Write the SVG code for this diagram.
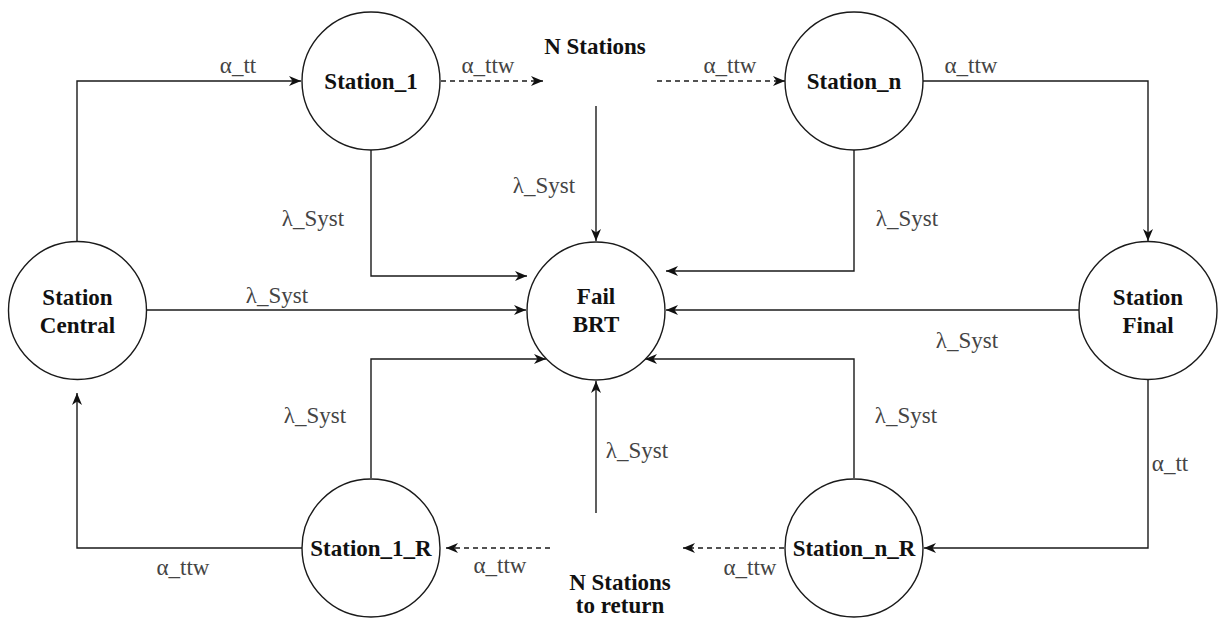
<svg xmlns="http://www.w3.org/2000/svg" width="1219" height="618" viewBox="0 0 1219 618">
<style>
.node circle{fill:#fff;stroke:#1a1a1a;stroke-width:1.4}
.nl{font-weight:bold;font-size:23px;fill:#111;text-anchor:middle;dominant-baseline:central}
.lbl{font-size:23px;fill:#444;text-anchor:middle;dominant-baseline:central}
.e{fill:none;stroke:#1a1a1a;stroke-width:1.4;marker-end:url(#arr)}
.d{stroke-dasharray:5 4}
</style>
<defs>
<marker id="arr" markerUnits="userSpaceOnUse" markerWidth="13" markerHeight="11" refX="12" refY="5.5" orient="auto">
<path d="M0,0.5 L12,5.5 L0,10.5 L3.5,5.5 Z" fill="#111"/>
</marker>
</defs>
<rect width="1219" height="618" fill="#fff"/>
<g id="connectors">
<path class="e" d="M77,242 V81 H301"/>
<path class="e d" d="M441,81 H543"/>
<path class="e d" d="M657,81 H785"/>
<path class="e" d="M923,81 H1148 V241"/>
<path class="e" d="M596,106 V241"/>
<path class="e" d="M371,150 V276 H527"/>
<path class="e" d="M854,150 V271 H666"/>
<path class="e" d="M147,310 H526"/>
<path class="e" d="M1079,310 H666"/>
<path class="e" d="M371,478 V359 H546"/>
<path class="e" d="M854,478 V359 H645"/>
<path class="e" d="M596,513 V381"/>
<path class="e" d="M1148,379 V548 H924"/>
<path class="e d" d="M784,548 H683"/>
<path class="e d" d="M550,548 H446"/>
<path class="e" d="M302,548 H77 V393"/>
</g>
<g id="labels" font-family="'Liberation Serif', serif">
<text class="lbl" x="238" y="65">α_tt</text>
<text class="lbl" x="488" y="65">α_ttw</text>
<text class="lbl" x="730" y="65">α_ttw</text>
<text class="lbl" x="971" y="65">α_ttw</text>
<text class="lbl" x="544" y="185">λ_Syst</text>
<text class="lbl" x="313" y="218">λ_Syst</text>
<text class="lbl" x="907" y="218">λ_Syst</text>
<text class="lbl" x="277" y="295">λ_Syst</text>
<text class="lbl" x="967" y="340">λ_Syst</text>
<text class="lbl" x="315" y="415">λ_Syst</text>
<text class="lbl" x="906" y="415">λ_Syst</text>
<text class="lbl" x="637" y="450">λ_Syst</text>
<text class="lbl" x="1170" y="463">α_tt</text>
<text class="lbl" x="183" y="567">α_ttw</text>
<text class="lbl" x="500" y="565">α_ttw</text>
<text class="lbl" x="750" y="567">α_ttw</text>
</g>
<g font-family="'Liberation Serif', serif">
<g id="station-central" class="node"><circle cx="77.5" cy="310.5" r="69"/><text class="nl" x="77.5" y="297">Station</text><text class="nl" x="77.5" y="325">Central</text></g>
<g id="station-1" class="node"><circle cx="371" cy="81" r="69"/><text class="nl" x="371" y="81">Station_1</text></g>
<g id="n-stations" class="node"><text class="nl" x="595" y="46">N Stations</text></g>
<g id="station-n" class="node"><circle cx="854" cy="81" r="69"/><text class="nl" x="854" y="81">Station_n</text></g>
<g id="fail-brt" class="node"><circle cx="596" cy="311" r="69"/><text class="nl" x="596" y="296">Fail</text><text class="nl" x="596" y="324">BRT</text></g>
<g id="station-final" class="node"><circle cx="1148" cy="310.5" r="69"/><text class="nl" x="1148" y="297">Station</text><text class="nl" x="1148" y="325">Final</text></g>
<g id="station-1-r" class="node"><circle cx="371" cy="548" r="69"/><text class="nl" x="371" y="548">Station_1_R</text></g>
<g id="station-n-r" class="node"><circle cx="854" cy="548" r="69"/><text class="nl" x="854" y="548">Station_n_R</text></g>
<g id="n-stations-return" class="node"><text class="nl" x="620" y="582">N Stations</text><text class="nl" x="620" y="605">to return</text></g>
</g>
</svg>
